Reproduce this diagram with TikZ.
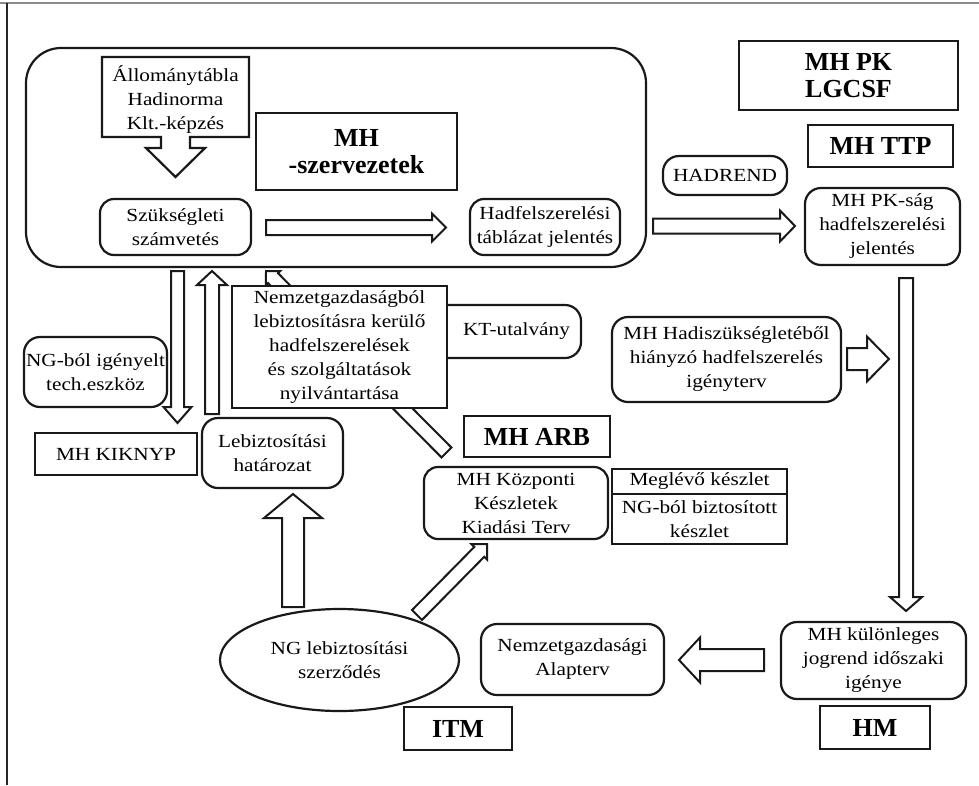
\documentclass[tikz,border=0pt]{standalone}
\usepackage{fontspec}
\setmainfont{Liberation Serif}
\newfontfamily\wideserif[FakeStretch=1.15]{Liberation Serif}
\usetikzlibrary{calc,shapes.geometric}

\tikzset{
 box/.style={draw=black!90, line width=2.2pt, fill=white, inner sep=0pt, align=center,
   font=\wideserif\fontsize{18.5}{24}\selectfont},
 rbox/.style={box, rounded corners=14pt},
 bbox/.style={box, font=\bfseries\fontsize{26}{27}\selectfont},
 blockarrow/.style={draw=black!90, line width=2pt, fill=white, line join=miter},
}

% #1 tail, #2 tip, #3 shaft half width, #4 head half width, #5 head length
\newcommand{\blockarr}[5]{%
 \coordinate (ba-h) at ($(#2)!#5!(#1)$);
 \draw[blockarrow] ($(#1)!#3!90:(#2)$) -- ($(ba-h)!#3!-90:(#1)$) -- ($(ba-h)!#4!-90:(#1)$)
   -- (#2) -- ($(ba-h)!#4!90:(#1)$) -- ($(ba-h)!#3!90:(#1)$) -- ($(#1)!#3!-90:(#2)$) -- cycle;
}

\begin{document}
\begin{tikzpicture}[x=1pt,y=-1pt]
\useasboundingbox (0,0) rectangle (979,785);
% frame
\draw[black!45, line width=2pt] (0,3) -- (979,3);
\draw[black!85, line width=1.4pt] (7,3) -- (7,785);

% container
\node[draw=black!90, line width=2.2pt, rounded corners=35pt, minimum width=620pt, minimum height=219pt, inner sep=0pt] (cont) at (336,157.5) {};

% Allomanytabla callout
\draw[blockarrow, line width=2.2pt] (102,57) -- (249,57) -- (249,137) -- (190,137) -- (190,148) -- (205,148)
  -- (175.5,177) -- (146,148) -- (161,148) -- (161,137) -- (102,137) -- cycle;
\node[box, draw=none, fill=none] (allo) at (175.5,100) {Állománytábla\\Hadinorma\\Klt.-képzés};

\node[bbox, minimum width=201pt, minimum height=77pt] (szerv) at (356.5,151.5) {MH\\-szervezetek};
\node[rbox, minimum width=151pt, minimum height=56pt] (szuk) at (175.5,227) {Szükségleti\\számvetés};
\node[rbox, minimum width=150pt, minimum height=56pt] (hadf) at (545,227) {Hadfelszerelési\\táblázat jelentés};
\node[rbox, rounded corners=16pt, minimum width=124pt, minimum height=39pt] (hadrend) at (725,175.5) {HADREND};
\node[bbox, minimum width=219pt, minimum height=69pt] (lgcsf) at (848.5,75.5) {MH PK\\LGCSF};
\node[bbox, minimum width=145pt, minimum height=42pt] (ttp) at (880.5,146) {MH TTP};
\node[rbox, rounded corners=16pt, minimum width=155pt, minimum height=77pt] (pksag) at (882.5,226.5) {MH PK-ság\\hadfelszerelési\\jelentés};

% arrows top row
\coordinate (a1t) at (266,227.5); \coordinate (a1h) at (446,227.5);
\blockarr{a1t}{a1h}{7.5pt}{14pt}{14pt}
\coordinate (a2t) at (653,226); \coordinate (a2h) at (795,226);
\blockarr{a2t}{a2h}{7.5pt}{15.5pt}{15pt}

% KT box (behind the register box)
\node[rbox, rounded corners=16pt, minimum width=161pt, minimum height=53pt] (kt) at (500.5,331.5) {\hspace*{32pt}KT-utalvány};

% big diagonal arrow (behind the register box)
\coordinate (a7t) at (446.5,452.5); \coordinate (a7h) at (266,271);
\blockarr{a7t}{a7h}{7pt}{10pt}{10pt}

\node[box, minimum width=215pt, minimum height=122pt] (nemz) at (339.5,347) {Nemzetgazdaságból\\lebiztosításra kerülő\\hadfelszerelések\\és szolgáltatások\\nyilvántartása};

% left vertical arrows
\coordinate (a3t) at (177.5,271); \coordinate (a3h) at (177.5,423);
\blockarr{a3t}{a3h}{6.5pt}{14pt}{16pt}
\coordinate (a4t) at (212,414); \coordinate (a4h) at (212,271);
\blockarr{a4t}{a4h}{7pt}{15pt}{14pt}

\node[rbox, rounded corners=16pt, minimum width=143pt, minimum height=70pt] (ngb) at (95.5,372) {NG-ból igényelt\\tech.eszköz};
\node[box, minimum width=162pt, minimum height=42pt] (kik) at (116,454) {MH KIKNYP};
\node[rbox, rounded corners=16pt, minimum width=141pt, minimum height=70pt] (lebiz) at (272.5,453) {Lebiztosítási\\határozat};
\node[bbox, minimum width=146pt, minimum height=41pt] (arb) at (537,436.5) {MH ARB};
\node[rbox, minimum width=184pt, minimum height=72pt] (kozp) at (516,503) {MH Központi\\Készletek\\Kiadási Terv};
\node[box, minimum width=175pt, minimum height=25pt] (megl) at (699.5,481.5) {Meglévő készlet};
\node[box, minimum width=175pt, minimum height=50pt] (ngbb) at (699.5,519) {NG-ból biztosított\\készlet};
\node[rbox, rounded corners=16pt, minimum width=229pt, minimum height=85pt] (hadi) at (726.5,359.5) {MH Hadiszükségletéből\\hiányzó hadfelszerelés\\igényterv};

% right side arrows
\coordinate (a8t) at (847,359); \coordinate (a8h) at (889,359);
\blockarr{a8t}{a8h}{11pt}{22.5pt}{22pt}
\coordinate (a9t) at (906,278); \coordinate (a9h) at (906,611);
\blockarr{a9t}{a9h}{7pt}{16pt}{14pt}

% bottom
\node[draw=black!90, line width=2.2pt, ellipse, inner sep=0pt, minimum width=239pt, minimum height=102pt, align=center,
  font=\wideserif\fontsize{18.5}{24}\selectfont] (ell) at (339.5,660) {NG lebiztosítási\\szerződés};
\node[rbox, rounded corners=16pt, minimum width=183pt, minimum height=71pt] (nga) at (572.5,659.5) {Nemzetgazdasági\\Alapterv};
\node[bbox, minimum width=108pt, minimum height=43pt] (itm) at (458,728.5) {ITM};
\node[rbox, rounded corners=16pt, minimum width=185pt, minimum height=77pt] (kul) at (873.5,660.5) {MH különleges\\jogrend időszaki\\igénye};
\node[bbox, minimum width=110pt, minimum height=43pt] (hm) at (875,727.5) {HM};

\coordinate (a5t) at (293,607); \coordinate (a5h) at (293,494);
\blockarr{a5t}{a5h}{11pt}{29pt}{24pt}
\coordinate (a6t) at (417,615); \coordinate (a6h) at (487,544);
\blockarr{a6t}{a6h}{7pt}{11pt}{11pt}
\coordinate (a10t) at (764,660); \coordinate (a10h) at (679,660);
\blockarr{a10t}{a10h}{11pt}{22.5pt}{21pt}
\end{tikzpicture}
\end{document}
